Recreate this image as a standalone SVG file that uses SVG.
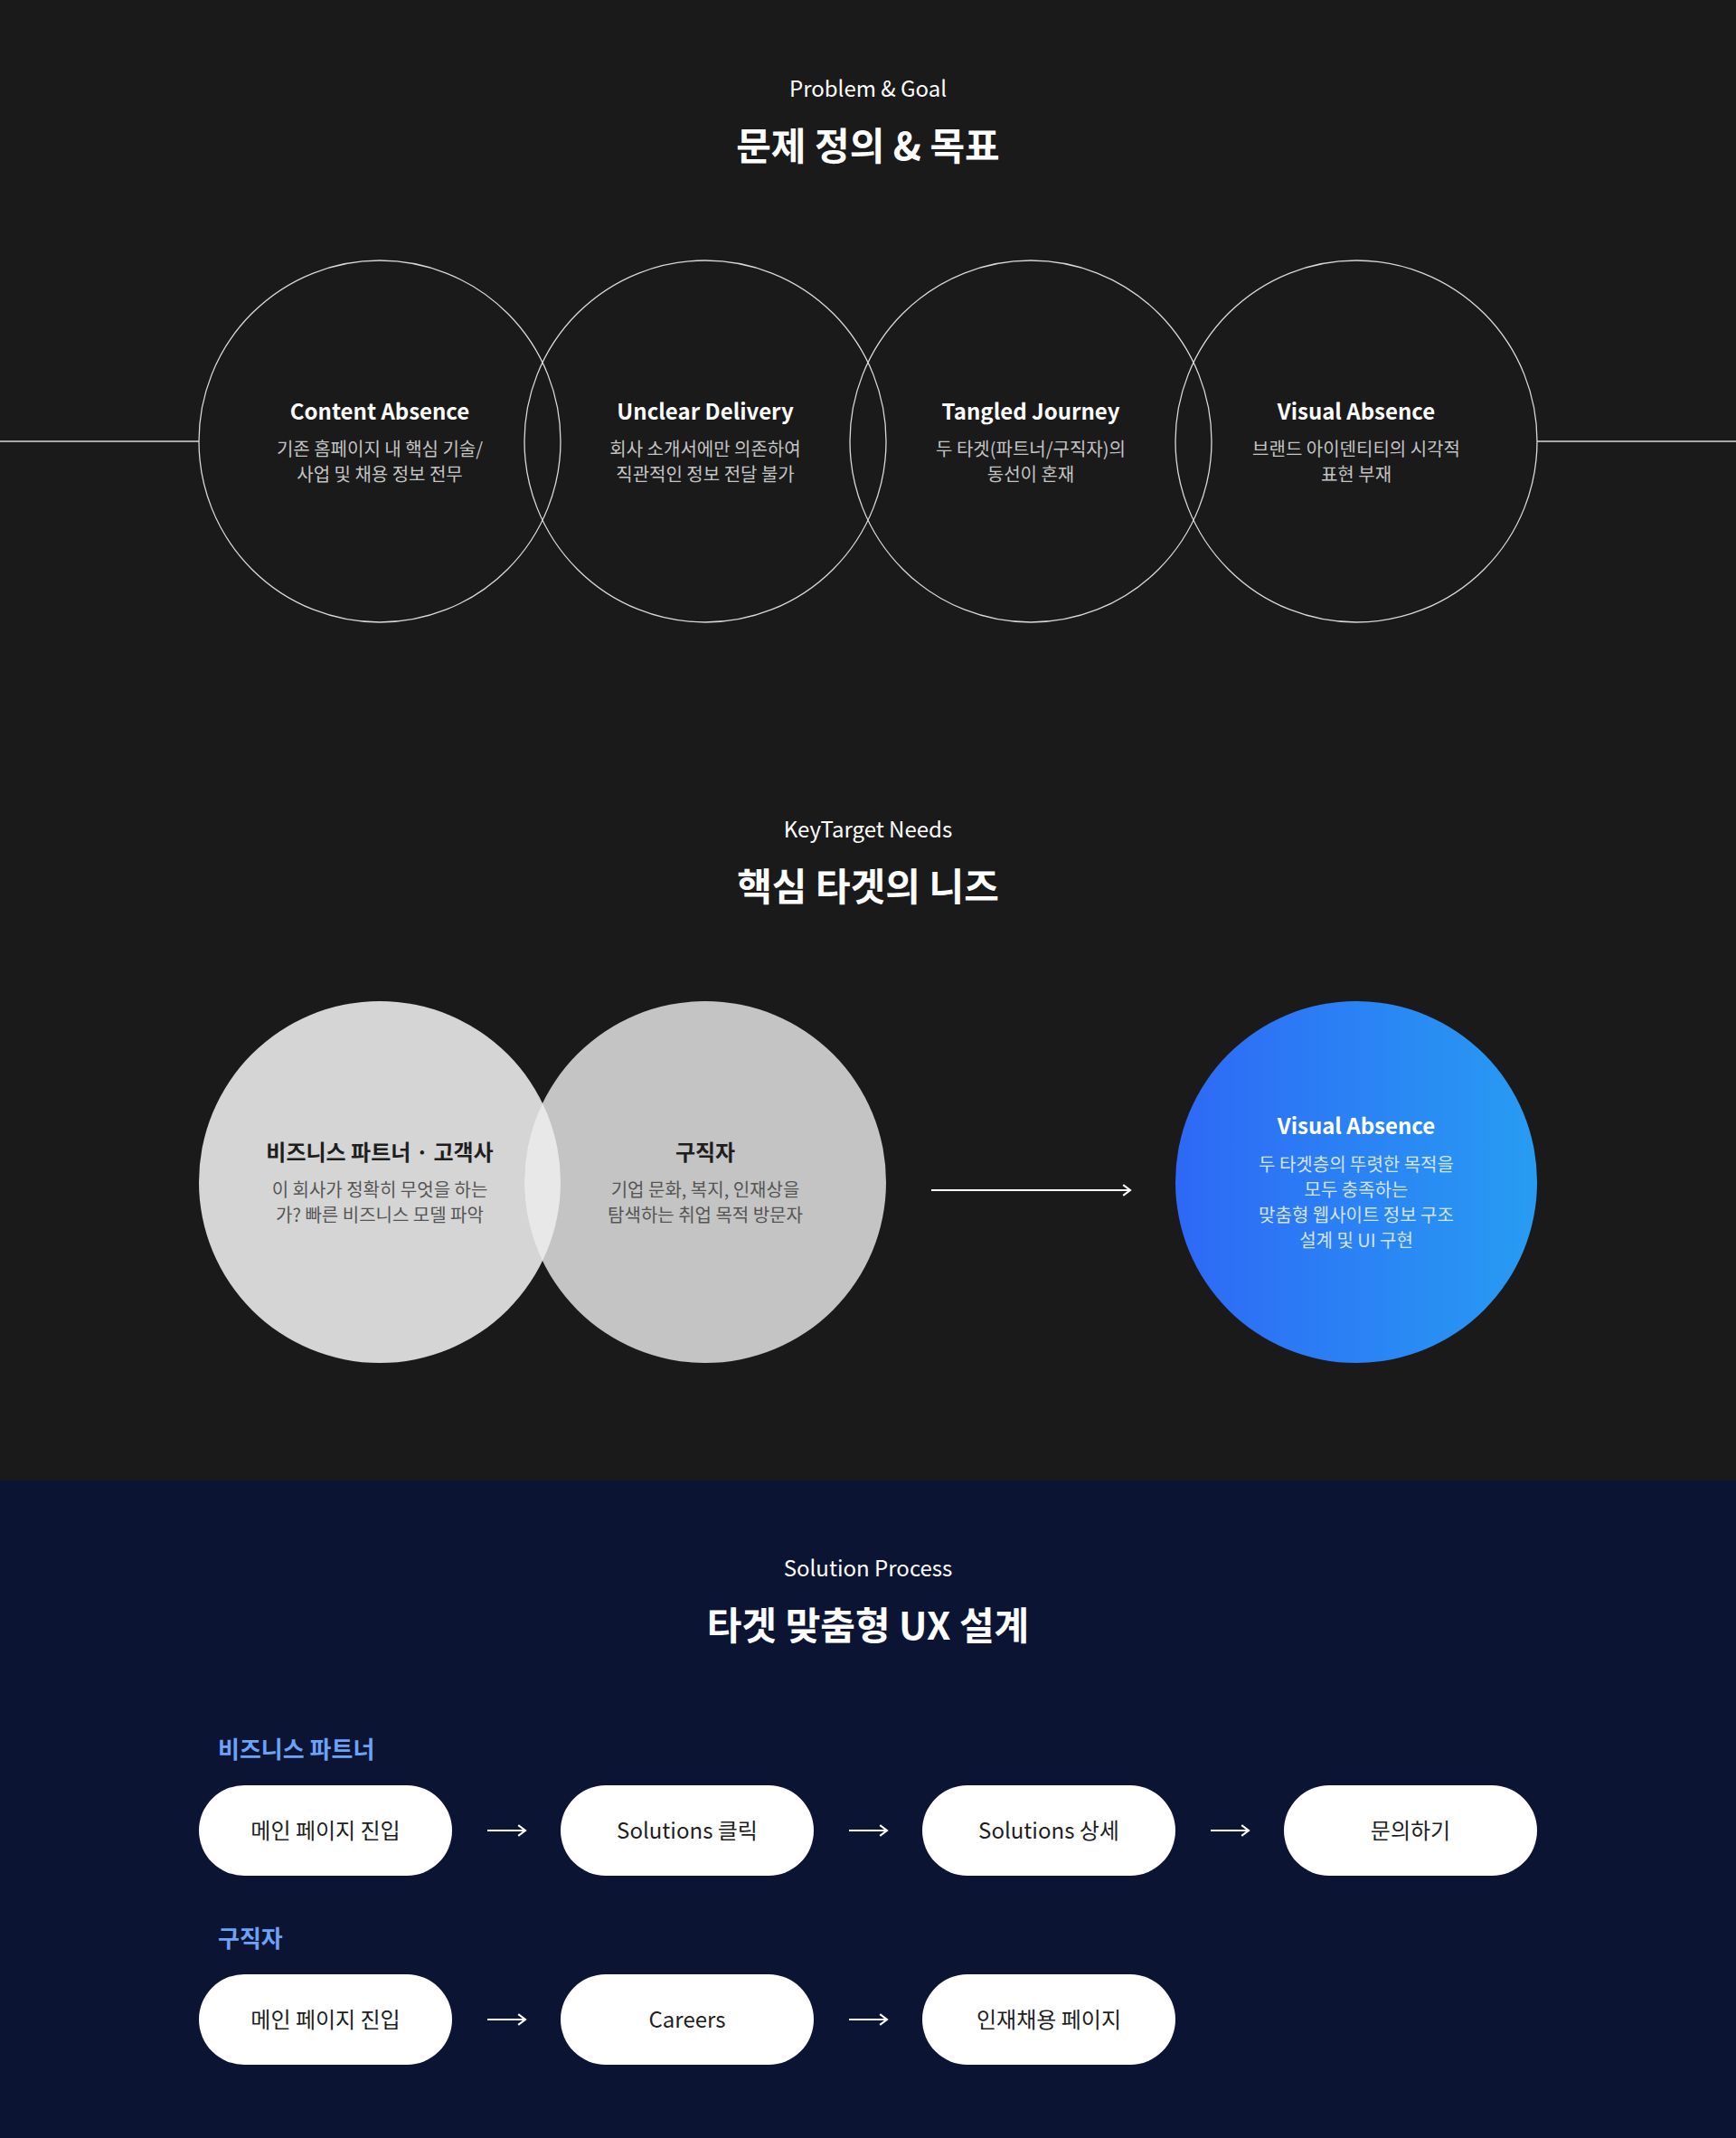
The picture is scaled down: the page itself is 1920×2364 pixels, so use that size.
<svg xmlns="http://www.w3.org/2000/svg" width="1920" height="2364" viewBox="0 0 1920 2364">
<defs>
<style>
text{font-family:"Noto Sans CJK KR","Noto Sans",sans-serif;text-anchor:middle}
.eyebrow{font-size:24px;fill:#ffffff}
.h2{font-size:42px;font-weight:700;fill:#ffffff}
.ct{font-size:24px;font-weight:700;fill:#ffffff}
.cd{font-size:20px;fill:#c4c4c4}
.gt{font-size:24px;font-weight:700;fill:#1e1e1e}
.gd{font-size:20px;fill:#555555}
.bt{font-size:24px;font-weight:700;fill:#ffffff}
.bd{font-size:20px;fill:#d5e4fd}
.lab{font-size:26px;font-weight:700;fill:#6ea2f7;text-anchor:start}
.pill{fill:#ffffff}
.pt{font-size:24px;fill:#1e1e1e}
.ring{fill:none;stroke:#d9d9d9;stroke-width:1.3}
.conn{stroke:#ffffff;stroke-width:2;fill:none}
</style>
<linearGradient id="blue" x1="0" y1="0" x2="1" y2="0">
<stop offset="0" stop-color="#2e68f6"/>
<stop offset="1" stop-color="#279cf2"/>
</linearGradient>
<clipPath id="lc"><circle cx="420" cy="1307" r="200"/></clipPath>
<marker id="ah" viewBox="0 0 10 10" refX="9" refY="5" markerWidth="13" markerHeight="13" markerUnits="userSpaceOnUse" orient="auto" overflow="visible">
<path d="M3,0.5 L9,5 L3,9.5" fill="none" stroke="#ffffff" stroke-width="1.6"/>
</marker>
</defs>
<rect x="0" y="0" width="1920" height="1637" fill="#1a1a1a"/>
<rect x="0" y="1637" width="1920" height="727" fill="#0b1533"/>

<g id="section1-header">
<text class="eyebrow" x="960" y="107">Problem &amp; Goal</text>
<text class="h2" x="960" y="177">문제 정의 &amp; 목표</text>
</g>

<g id="connectors">
<line x1="0" y1="488" x2="220" y2="488" stroke="#d9d9d9" stroke-width="1.3"/>
<line x1="1700" y1="488" x2="1920" y2="488" stroke="#d9d9d9" stroke-width="1.3"/>
<line class="conn" x1="1030" y1="1316" x2="1250" y2="1316" marker-end="url(#ah)"/>
<line class="conn" x1="539" y1="2024" x2="581" y2="2024" marker-end="url(#ah)"/>
<line class="conn" x1="939" y1="2024" x2="981" y2="2024" marker-end="url(#ah)"/>
<line class="conn" x1="1339" y1="2024" x2="1381" y2="2024" marker-end="url(#ah)"/>
<line class="conn" x1="539" y1="2233" x2="581" y2="2233" marker-end="url(#ah)"/>
<line class="conn" x1="939" y1="2233" x2="981" y2="2233" marker-end="url(#ah)"/>
</g>

<g id="problem-1">
<circle class="ring" cx="420" cy="488" r="200"/>
<text class="ct" x="420" y="464">Content Absence</text>
<text class="cd" x="420" y="504">기존 홈페이지 내 핵심 기술/</text>
<text class="cd" x="420" y="532">사업 및 채용 정보 전무</text>
</g>
<g id="problem-2">
<circle class="ring" cx="780" cy="488" r="200"/>
<text class="ct" x="780" y="464">Unclear Delivery</text>
<text class="cd" x="780" y="504">회사 소개서에만 의존하여</text>
<text class="cd" x="780" y="532">직관적인 정보 전달 불가</text>
</g>
<g id="problem-3">
<circle class="ring" cx="1140" cy="488" r="200"/>
<text class="ct" x="1140" y="464">Tangled Journey</text>
<text class="cd" x="1140" y="504">두 타겟(파트너/구직자)의</text>
<text class="cd" x="1140" y="532">동선이 혼재</text>
</g>
<g id="problem-4">
<circle class="ring" cx="1500" cy="488" r="200"/>
<text class="ct" x="1500" y="464">Visual Absence</text>
<text class="cd" x="1500" y="504">브랜드 아이덴티티의 시각적</text>
<text class="cd" x="1500" y="532">표현 부재</text>
</g>

<g id="section2-header">
<text class="eyebrow" x="960" y="926">KeyTarget Needs</text>
<text class="h2" x="960" y="996">핵심 타겟의 니즈</text>
</g>

<g id="target-partner">
<circle cx="420" cy="1307" r="200" fill="#d5d5d5"/>
<text class="gt" x="420" y="1283">비즈니스 파트너 · 고객사</text>
<text class="gd" x="420" y="1323">이 회사가 정확히 무엇을 하는</text>
<text class="gd" x="420" y="1351">가? 빠른 비즈니스 모델 파악</text>
</g>
<g id="target-jobseeker">
<circle cx="780" cy="1307" r="200" fill="#c4c4c4"/>
<circle cx="780" cy="1307" r="200" fill="#e8e8e8" clip-path="url(#lc)"/>
<text class="gt" x="780" y="1283">구직자</text>
<text class="gd" x="780" y="1323">기업 문화, 복지, 인재상을</text>
<text class="gd" x="780" y="1351">탐색하는 취업 목적 방문자</text>
</g>
<g id="goal">
<circle cx="1500" cy="1307" r="200" fill="url(#blue)"/>
<text class="bt" x="1500" y="1254">Visual Absence</text>
<text class="bd" x="1500" y="1295">두 타겟층의 뚜렷한 목적을</text>
<text class="bd" x="1500" y="1323">모두 충족하는</text>
<text class="bd" x="1500" y="1351">맞춤형 웹사이트 정보 구조</text>
<text class="bd" x="1500" y="1379">설계 및 UI 구현</text>
</g>

<g id="section3-header">
<text class="eyebrow" x="960" y="1743">Solution Process</text>
<text class="h2" x="960" y="1813">타겟 맞춤형 UX 설계</text>
</g>

<g id="label-partner"><text class="lab" x="241" y="1944">비즈니스 파트너</text></g>
<g id="p1"><rect class="pill" x="220" y="1974" width="280" height="100" rx="50"/><text class="pt" x="360" y="2033">메인 페이지 진입</text></g>
<g id="p2"><rect class="pill" x="620" y="1974" width="280" height="100" rx="50"/><text class="pt" x="760" y="2033">Solutions 클릭</text></g>
<g id="p3"><rect class="pill" x="1020" y="1974" width="280" height="100" rx="50"/><text class="pt" x="1160" y="2033">Solutions 상세</text></g>
<g id="p4"><rect class="pill" x="1420" y="1974" width="280" height="100" rx="50"/><text class="pt" x="1560" y="2033">문의하기</text></g>

<g id="label-jobseeker"><text class="lab" x="241" y="2153">구직자</text></g>
<g id="j1"><rect class="pill" x="220" y="2183" width="280" height="100" rx="50"/><text class="pt" x="360" y="2242">메인 페이지 진입</text></g>
<g id="j2"><rect class="pill" x="620" y="2183" width="280" height="100" rx="50"/><text class="pt" x="760" y="2242">Careers</text></g>
<g id="j3"><rect class="pill" x="1020" y="2183" width="280" height="100" rx="50"/><text class="pt" x="1160" y="2242">인재채용 페이지</text></g>
</svg>
